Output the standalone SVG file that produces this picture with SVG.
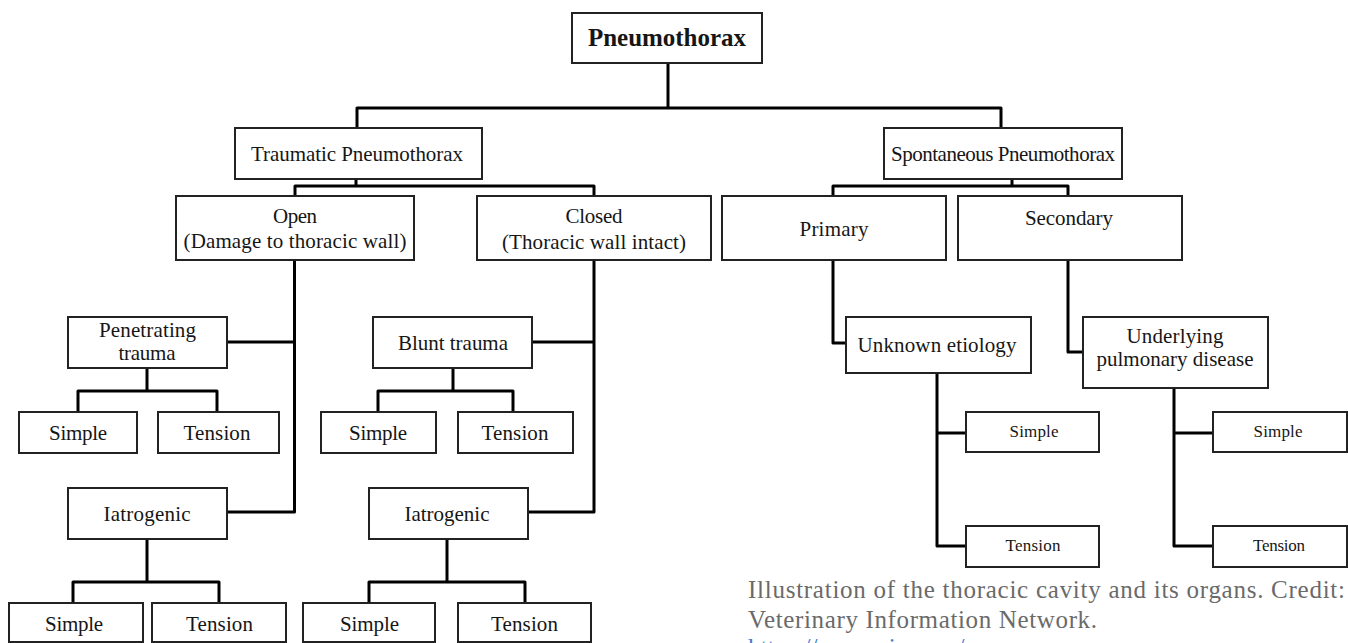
<svg xmlns="http://www.w3.org/2000/svg" width="1348" height="643" viewBox="0 0 1348 643">
<style>
.box{fill:#fff;stroke:#222;stroke-width:2}
.t{font-family:"Liberation Serif","Times New Roman",serif;font-size:21px;fill:#161616;text-anchor:middle}
.s{font-size:17px}
.title{font-weight:bold;font-size:25px}
.con{fill:none;stroke:#000;stroke-width:3;stroke-linejoin:round;stroke-linecap:butt}
.cap{font-family:"Liberation Serif","Times New Roman",serif;font-size:25px;fill:#6a6a6a}
.link{fill:#4a78c8}
</style>
<rect width="1348" height="643" fill="#fff"/>
<g id="connectors">
<path class="con" d="M668,63 V108 M357,128 V108 H1001 V128"/>
<path class="con" d="M356,179 V186 M295,196 V186 H594 V196"/>
<path class="con" d="M1012,179 V186 M833,196 V186 H1068 V196"/>
<path class="con" d="M227,342 H294.5 M294.5,260 V512 H227"/>
<path class="con" d="M532,342 H594 M594,260 V512 H528"/>
<path class="con" d="M147,368 V391 M78,412 V391 H217 V412"/>
<path class="con" d="M453,368 V391 M378,412 V391 H513 V412"/>
<path class="con" d="M147,539 V582 M73,603 V582 H219 V603"/>
<path class="con" d="M447,539 V582 M369,603 V582 H525 V603"/>
<path class="con" d="M833,260 V343 H846"/>
<path class="con" d="M1068,260 V352 H1083"/>
<path class="con" d="M937,373 V546 H966 M937,433 H966"/>
<path class="con" d="M1174,388 V546 H1213 M1174,433 H1213"/>
</g>
<g id="root"><rect class="box" x="572" y="13" width="190" height="50"/><text class="t title" x="667" y="46" textLength="158">Pneumothorax</text></g>
<g id="traumatic"><rect class="box" x="235" y="128" width="247" height="51"/><text class="t" x="357" y="161" textLength="212">Traumatic Pneumothorax</text></g>
<g id="spontaneous"><rect class="box" x="884" y="128" width="238" height="51"/><text class="t" x="1003" y="161" textLength="224">Spontaneous Pneumothorax</text></g>
<g id="open"><rect class="box" x="176" y="196" width="238" height="64"/><text class="t" x="295" y="223" textLength="44">Open</text><text class="t" x="295" y="248" textLength="223">(Damage to thoracic wall)</text></g>
<g id="closed"><rect class="box" x="477" y="196" width="234" height="64"/><text class="t" x="594" y="223" textLength="57">Closed</text><text class="t" x="594" y="249" textLength="184">(Thoracic wall intact)</text></g>
<g id="primary"><rect class="box" x="722" y="196" width="224" height="64"/><text class="t" x="834" y="236" textLength="69">Primary</text></g>
<g id="secondary"><rect class="box" x="958" y="196" width="224" height="64"/><text class="t" x="1069" y="225" textLength="88">Secondary</text></g>
<g id="penetrating"><rect class="box" x="68" y="317" width="159" height="51"/><text class="t" x="147.5" y="337" textLength="97">Penetrating</text><text class="t" x="147" y="360" textLength="57">trauma</text></g>
<g id="blunt"><rect class="box" x="373" y="317" width="159" height="51"/><text class="t" x="453" y="350" textLength="110">Blunt trauma</text></g>
<g id="iatrogenic-open"><rect class="box" x="68" y="488" width="159" height="51"/><text class="t" x="147" y="521" textLength="87">Iatrogenic</text></g>
<g id="iatrogenic-closed"><rect class="box" x="369" y="488" width="159" height="51"/><text class="t" x="447" y="521" textLength="85">Iatrogenic</text></g>
<g id="simple-pen"><rect class="box" x="19" y="412" width="118" height="41"/><text class="t" x="78" y="440" textLength="58">Simple</text></g>
<g id="tension-pen"><rect class="box" x="158" y="412" width="121" height="41"/><text class="t" x="217" y="440" textLength="67">Tension</text></g>
<g id="simple-blunt"><rect class="box" x="321" y="412" width="115" height="41"/><text class="t" x="378" y="440" textLength="58">Simple</text></g>
<g id="tension-blunt"><rect class="box" x="458" y="412" width="115" height="41"/><text class="t" x="515" y="440" textLength="67">Tension</text></g>
<g id="simple-iat-open"><rect class="box" x="9" y="603" width="134" height="39"/><text class="t" x="74" y="631" textLength="58">Simple</text></g>
<g id="tension-iat-open"><rect class="box" x="152" y="603" width="134" height="39"/><text class="t" x="219.5" y="631" textLength="67">Tension</text></g>
<g id="simple-iat-closed"><rect class="box" x="303" y="603" width="132" height="39"/><text class="t" x="369.5" y="631" textLength="59">Simple</text></g>
<g id="tension-iat-closed"><rect class="box" x="458" y="603" width="133" height="39"/><text class="t" x="524.5" y="631" textLength="67">Tension</text></g>
<g id="unknown"><rect class="box" x="846" y="317" width="185" height="56"/><text class="t" x="937" y="352" textLength="159">Unknown etiology</text></g>
<g id="underlying"><rect class="box" x="1083" y="317" width="185" height="71"/><text class="t" x="1175" y="343" textLength="97">Underlying</text><text class="t" x="1175" y="366" textLength="157">pulmonary disease</text></g>
<g id="simple-unknown"><rect class="box" x="966" y="412" width="133" height="40"/><text class="t s" x="1034" y="437" textLength="49">Simple</text></g>
<g id="tension-unknown"><rect class="box" x="966" y="526" width="133" height="41"/><text class="t s" x="1033" y="551" textLength="55">Tension</text></g>
<g id="simple-underlying"><rect class="box" x="1213" y="412" width="134" height="40"/><text class="t s" x="1278" y="437" textLength="49">Simple</text></g>
<g id="tension-underlying"><rect class="box" x="1213" y="526" width="134" height="41"/><text class="t s" x="1279" y="551" textLength="52">Tension</text></g>
<g id="caption">
<text class="cap" x="748" y="598" textLength="597">Illustration of the thoracic cavity and its organs. Credit:</text>
<text class="cap" x="748" y="628" textLength="349">Veterinary Information Network.</text>
<text class="cap link" x="748" y="656">https://www.vin.com/</text>
</g>
</svg>
